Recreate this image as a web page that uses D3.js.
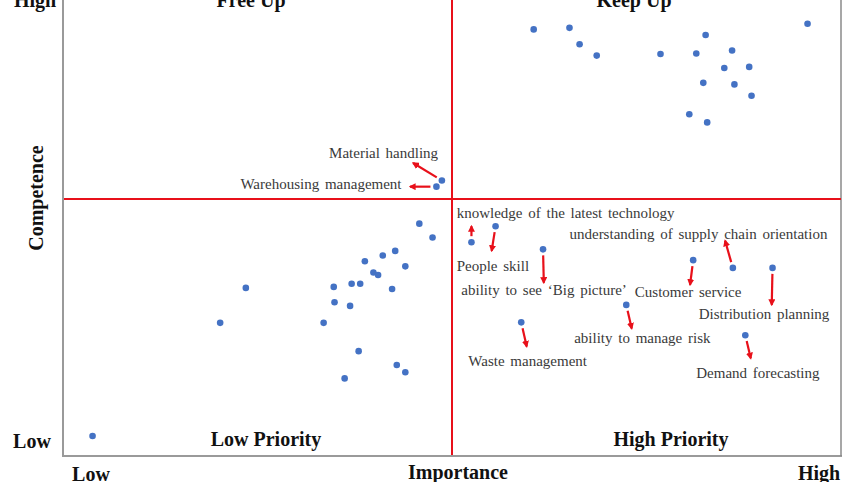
<!DOCTYPE html>
<html>
<head>
<meta charset="utf-8">
<script src="https://cdn.jsdelivr.net/npm/d3@7/dist/d3.min.js"></script>
<style>
  html, body { margin: 0; padding: 0; background: #fff; }
  svg { display: block; }
</style>
</head>
<body>
<svg id="chart" width="857" height="482"></svg>
<script>
// ---------- DATA ----------
// Plain (unlabelled) points: importance (x) and competence (y), 0-100 scale
const plainX = [60.5, 65.1, 66.4, 68.6, 76.8, 82.6, 81.4, 86.0, 85.0, 88.2, 82.3, 86.3, 88.5, 80.5, 82.8, 95.7,
                45.8, 47.5, 42.7, 41.1, 38.8, 44.0, 39.9, 40.5, 34.8, 37.1, 38.2, 42.3, 23.5, 34.9, 36.9, 20.2, 33.5, 38.0, 42.9, 44.0, 36.2, 3.8];
const plainY = [83.0, 83.3, 80.1, 77.9, 78.2, 81.9, 78.3, 78.9, 75.5, 75.7, 72.6, 72.3, 70.1, 66.5, 64.9, 84.1,
                45.2, 42.5, 39.9, 39.0, 37.9, 36.9, 35.7, 35.2, 32.9, 33.5, 33.5, 32.5, 32.7, 29.9, 29.2, 25.9, 25.9, 20.4, 17.7, 16.3, 15.1, 3.9];

// Annotated points (point value and arrow target value)
const annoNames = ["Material handling", "Warehousing management", "knowledge of the latest technology", "People skill",
                   "ability to see \u2018Big picture\u2019", "Customer service", "understanding of supply chain orientation",
                   "Distribution planning", "ability to manage risk", "Waste management", "Demand forecasting"];
const annoX   = [48.7, 48.0, 52.5, 55.6, 61.7, 81.0, 86.1, 91.2, 72.4, 58.9, 87.7];
const annoY   = [53.6, 52.4, 41.6, 44.7, 40.2, 38.1, 36.6, 36.6, 29.4, 26.0, 23.5];
const arrowToX = [45.0, 44.6, 52.5, 55.1, 61.8, 80.6, 85.1, 91.1, 73.1, 59.6, 88.4];
const arrowToY = [57.0, 52.4, 44.7, 39.9, 33.7, 33.3, 41.9, 29.4, 24.8, 21.3, 19.0];
// label anchor (left end of text, vertical middle), same 0-100 scale
const labelX = [34.2, 22.8, 50.6, 50.6, 51.2, 73.5, 65.1, 81.7, 65.7, 52.1, 81.4];
const labelY = [59.0, 52.9, 47.2, 37.0, 32.3, 32.0, 43.1, 27.6, 23.0, 18.4, 16.1];

const quadrantLabels = ["Free Up", "Keep Up", "Low Priority", "High Priority"];
const axisLabels = { x: "Importance", y: "Competence", low: "Low", high: "High" };

// ---------- LAYOUT ----------
const svg = d3.select("#chart");
const L = 63, R = 841, B = 456, T = -58;
const x = d3.scaleLinear().domain([0, 100]).range([L, R]);
const y = d3.scaleLinear().domain([0, 100]).range([B, T]);
const serif = "'Liberation Serif', 'Times New Roman', serif";
const red = "#e8101a";
const blue = "#4472c4";

// arrow marker
svg.append("defs").append("marker")
  .attr("id", "arrow").attr("viewBox", "0 0 10 10")
  .attr("refX", 8).attr("refY", 5)
  .attr("markerWidth", 3.2).attr("markerHeight", 3.2)
  .attr("orient", "auto")
  .append("path").attr("d", "M0,0 L10,5 L0,10 z").attr("fill", red);

// frame
svg.append("line").attr("x1", x(0)).attr("x2", x(0)).attr("y1", -5).attr("y2", B)
  .attr("stroke", "#9a9a9a").attr("stroke-width", 2);
svg.append("line").attr("x1", x(0) - 1).attr("x2", x(100) + 1).attr("y1", B).attr("y2", B)
  .attr("stroke", "#9a9a9a").attr("stroke-width", 2);
svg.append("line").attr("x1", x(100)).attr("x2", x(100)).attr("y1", -5).attr("y2", B)
  .attr("stroke", "#8a8a8a").attr("stroke-width", 1.5);

// red quadrant lines
svg.append("line").attr("x1", x(0) + 1).attr("x2", x(100)).attr("y1", y(50)).attr("y2", y(50))
  .attr("stroke", red).attr("stroke-width", 2);
svg.append("line").attr("x1", x(50)).attr("x2", x(50)).attr("y1", -5).attr("y2", B - 1)
  .attr("stroke", red).attr("stroke-width", 2);

// quadrant labels
const qPos = [[251, 7], [634, 7], [266, 446], [671, 446]];
svg.selectAll("text.q").data(quadrantLabels).join("text")
  .attr("class", "q")
  .attr("x", (d, i) => qPos[i][0]).attr("y", (d, i) => qPos[i][1])
  .attr("text-anchor", "middle")
  .attr("font-family", serif).attr("font-weight", "bold").attr("font-size", 20)
  .attr("fill", "#111").text(d => d);

// axis labels
const bold = sel => sel.attr("font-family", serif).attr("font-weight", "bold").attr("font-size", 20).attr("fill", "#111");
svg.append("text").attr("x", 35).attr("y", 7).attr("text-anchor", "middle").text(axisLabels.high).call(bold);
svg.append("text").attr("x", 32).attr("y", 448).attr("text-anchor", "middle").text(axisLabels.low).call(bold);
svg.append("text").attr("x", 91).attr("y", 481).attr("text-anchor", "middle").text(axisLabels.low).call(bold);
svg.append("text").attr("x", 458).attr("y", 479).attr("text-anchor", "middle").text(axisLabels.x).call(bold);
svg.append("text").attr("x", 819).attr("y", 480).attr("text-anchor", "middle").text(axisLabels.high).call(bold);
svg.append("text").attr("transform", "translate(43,198) rotate(-90)").attr("text-anchor", "middle").text(axisLabels.y).call(bold);

// arrows
const annos = annoNames.map((n, i) => ({ n, x: annoX[i], y: annoY[i], tx: arrowToX[i], ty: arrowToY[i], lx: labelX[i], ly: labelY[i] }));
svg.selectAll("line.arr").data(annos).join("line")
  .attr("class", "arr")
  .each(function (d) {
    const px = x(d.x), py = y(d.y), qx = x(d.tx), qy = y(d.ty);
    const len = Math.hypot(qx - px, qy - py), gap = 6;
    d3.select(this)
      .attr("x1", px + (qx - px) / len * gap).attr("y1", py + (qy - py) / len * gap)
      .attr("x2", qx).attr("y2", qy);
  })
  .attr("stroke", red).attr("stroke-width", 2.2)
  .attr("marker-end", "url(#arrow)");

// annotation labels
svg.selectAll("text.anno").data(annos).join("text")
  .attr("class", "anno")
  .attr("x", d => x(d.lx)).attr("y", d => y(d.ly))
  .attr("dominant-baseline", "central")
  .attr("font-family", serif).attr("font-size", 15).attr("word-spacing", 2)
  .attr("fill", "#3a3a3a").text(d => d.n);

// points
const pts = plainX.map((v, i) => ({ x: v, y: plainY[i] })).concat(annos.map(a => ({ x: a.x, y: a.y })));
svg.selectAll("circle.pt").data(pts).join("circle")
  .attr("class", "pt")
  .attr("cx", d => x(d.x)).attr("cy", d => y(d.y)).attr("r", 3.3)
  .attr("fill", blue);
</script>
</body>
</html>
